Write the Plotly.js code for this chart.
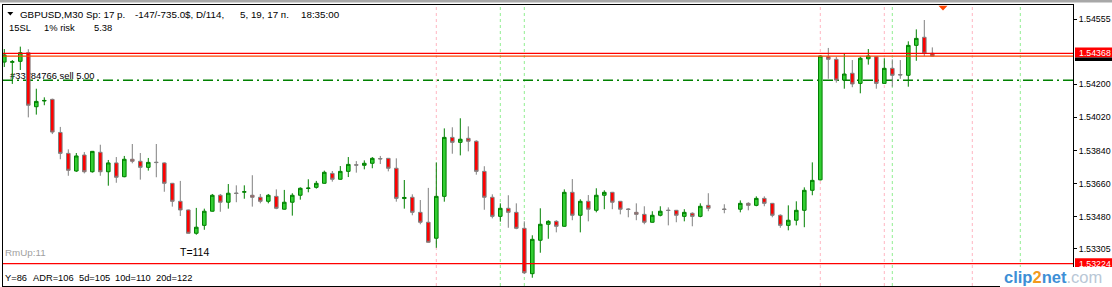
<!DOCTYPE html>
<html>
<head>
<meta charset="utf-8">
<script src="https://cdn.plot.ly/plotly-3.0.1.min.js"></script>
<style>html,body{margin:0;padding:0;background:#fff;}#chart{width:1112px;height:287px;}</style>
</head>
<body>
<div id="chart"></div>
<script>
// ---- data: GBPUSD M30 bars ----
const openP = [1.54321,1.54320,1.54325,1.54372,1.54078,1.54109,1.54118,1.53938,1.53824,1.53728,
1.53815,1.53724,1.53830,1.53724,1.53772,1.53697,1.53792,1.53781,1.53748,1.53776,
1.53772,1.53661,1.53563,1.53516,1.53389,1.53432,1.53509,1.53596,1.53558,1.53608,
1.53613,1.53596,1.53585,1.53563,1.53590,1.53520,1.53558,1.53596,1.53633,1.53639,
1.53661,1.53715,1.53683,1.53726,1.53762,1.53759,1.53770,1.53796,1.53797,1.53743,
1.53578,1.53585,1.53503,1.53449,1.53362,1.53590,1.53911,1.53884,1.53906,1.53890,
1.53726,1.53585,1.53481,1.53525,1.53503,1.53416,1.53169,1.53351,1.53438,1.53454,
1.53427,1.53612,1.53487,1.53563,1.53514,1.53596,1.53612,1.53563,1.53521,1.53503,
1.53492,1.53449,1.53487,1.53515,1.53514,1.53481,1.53498,1.53481,1.53541,null,
1.53521,null,1.53520,1.53552,1.53541,1.53579,1.53552,1.53487,1.53432,1.53460,
1.53514,1.53623,1.53680,1.54350,1.54336,1.54223,1.54260,1.54205,1.54339,1.54350,
1.54205,1.54287,1.54253,1.54249,1.54412,1.54456,1.54369];
const highP = [1.54392,1.54332,1.54405,1.54391,1.54176,1.54129,1.54122,1.53968,1.53846,1.53826,
1.53831,1.53837,1.53871,1.53788,1.53804,1.53810,1.53875,1.53826,1.53799,1.53875,
1.53775,1.53663,1.53674,1.53518,1.53527,1.53523,1.53603,1.53603,1.53657,1.53650,
1.53650,1.53705,1.53603,1.53603,1.53628,1.53625,1.53607,1.53639,1.53683,1.53674,
1.53730,1.53728,1.53755,1.53804,1.53782,1.53786,1.53804,1.53810,1.53799,1.53797,
1.53679,1.53601,1.53570,1.53636,1.53775,1.53960,1.53966,1.54015,1.53971,1.53895,
1.53754,1.53601,1.53552,1.53596,1.53552,1.53454,1.53378,1.53525,1.53460,1.53460,
1.53628,1.53684,1.53574,1.53597,1.53634,1.53623,1.53614,1.53565,1.53525,1.53552,
1.53536,1.53509,1.53536,1.53530,1.53516,1.53520,1.53503,1.53552,1.53607,null,
1.53547,null,1.53568,1.53558,1.53590,1.53590,1.53554,1.53492,1.53541,1.53563,
1.53639,1.53775,1.54357,1.54398,1.54350,1.54365,1.54332,1.54350,1.54392,1.54354,
1.54342,1.54336,1.54332,1.54434,1.54499,1.54550,1.54401];
const lowP = [1.54294,1.54202,1.54278,1.54020,1.54035,1.54086,1.53929,1.53792,1.53702,1.53723,
1.53715,1.53719,1.53702,1.53648,1.53664,1.53694,1.53770,1.53681,1.53730,1.53694,
1.53615,1.53534,1.53483,1.53388,1.53381,1.53408,1.53507,1.53506,1.53523,1.53558,
1.53577,1.53534,1.53552,1.53552,1.53520,1.53518,1.53485,1.53572,1.53612,1.53632,
1.53659,1.53670,1.53681,1.53695,1.53719,1.53737,1.53743,1.53766,1.53726,1.53561,
1.53523,1.53487,1.53438,1.53338,1.53310,1.53561,1.53822,1.53813,1.53835,1.53708,
1.53517,1.53470,1.53452,1.53419,1.53411,1.53167,1.53147,1.53283,1.53359,1.53394,
1.53425,1.53460,1.53394,1.53454,1.53503,1.53520,1.53520,1.53492,1.53476,1.53460,
1.53438,1.53447,1.53481,1.53432,1.53449,1.53454,1.53427,1.53476,1.53509,null,
1.53498,null,1.53503,1.53514,1.53536,1.53536,1.53476,1.53419,1.53405,1.53432,
1.53422,1.53596,1.53677,1.54230,1.54209,1.54176,1.54184,1.54151,1.54307,1.54176,
1.54204,1.54187,1.54230,1.54187,1.54328,1.54354,1.54353];
const closeP = [1.54360,1.54323,1.54372,1.54086,1.54107,1.54112,1.53940,1.53824,1.53732,1.53810,
1.53724,1.53835,1.53724,1.53772,1.53694,1.53792,1.53781,1.53748,1.53775,1.53774,
1.53661,1.53563,1.53516,1.53389,1.53422,1.53509,1.53596,1.53558,1.53607,1.53606,
1.53615,1.53585,1.53563,1.53596,1.53525,1.53558,1.53596,1.53634,1.53635,1.53661,
1.53721,1.53683,1.53726,1.53764,1.53760,1.53770,1.53797,1.53794,1.53743,1.53579,
1.53584,1.53503,1.53449,1.53340,1.53590,1.53911,1.53884,1.53901,1.53890,1.53726,
1.53585,1.53481,1.53525,1.53503,1.53416,1.53174,1.53356,1.53438,1.53454,1.53427,
1.53612,1.53487,1.53563,1.53520,1.53596,1.53612,1.53558,1.53520,1.53519,1.53492,
1.53449,1.53487,1.53509,1.53513,1.53487,1.53503,1.53481,1.53536,1.53525,null,
1.53519,null,1.53552,1.53541,1.53579,1.53552,1.53487,1.53432,1.53460,1.53514,
1.53623,1.53677,1.54354,1.54336,1.54223,1.54256,1.54202,1.54342,1.54354,1.54205,
1.54287,1.54249,1.54251,1.54412,1.54450,1.54369,1.54354];

// horizontal levels
const bidPrice = 1.54368;
const levelOrange = 1.54353;
const orderPrice = 1.54222;
const lowLevel = 1.53224;
const orderLabel = "#33784766 sell 5.00";

// vertical separators (bar numbers)
const pinkBars = [54, 102, 110, 121];
const greenBars = [62, 65, 111, 127];

// price axis ticks
const tickVals = [1.54555, 1.54200, 1.54020, 1.53840, 1.53660, 1.53480, 1.53305];
const tickText = ["1.54555", "1.54200", "1.54020", "1.53840", "1.53660", "1.53480", "1.53305"];

// texts
const headerParts = [["GBPUSD,M30", 19.3], ["Sp: 17 p.", 84.7], ["-147/-735.0$, D/114,", 134], ["5, 19, 17 п.", 239.3], ["18:35:00", 300]];
const line2Parts = [["15SL", 8], ["1% risk", 43.3], ["5.38", 92.7]];
const footerParts = [["Y=86", 4.3], ["ADR=106", 32], ["5d=105", 78.3], ["10d=110", 114.3], ["20d=122", 155]];

// ---- layout helpers (pixel -> paper) ----
const PL = 3, PR = 1073, PT = 5, PB = 286;
const px = x => (x - PL) / (PR - PL);
const py = y => (PB - y) / (PB - PT);
const FONT = "Liberation Sans, Arial, sans-serif";

const bars = openP.map((_, i) => i);

const trace = {
  type: 'candlestick',
  x: bars, open: openP, high: highP, low: lowP, close: closeP,
  increasing: {line: {color: '#008000', width: 1}, fillcolor: '#32CD32'},
  decreasing: {line: {color: '#808080', width: 1}, fillcolor: '#FF0000'},
  whiskerwidth: 0,
  hoverinfo: 'skip',
  showlegend: false
};

const shapes = [];
// top gray strip
shapes.push({type: 'rect', xref: 'paper', yref: 'paper', x0: px(0), x1: px(1112), y0: py(0), y1: py(2.4), fillcolor: '#a8a8a8', line: {width: 0}, layer: 'above'});
// vertical dashed separators
pinkBars.forEach(b => shapes.push({type: 'line', xref: 'x', yref: 'paper', x0: b, x1: b, y0: 0, y1: 1, line: {color: '#FFB6C1', width: 1, dash: '3px,3px'}, layer: 'below'}));
greenBars.forEach(b => shapes.push({type: 'line', xref: 'x', yref: 'paper', x0: b, x1: b, y0: 0, y1: 1, line: {color: '#90EE90', width: 1, dash: '3px,3px'}, layer: 'below'}));
// horizontal levels
shapes.push({type: 'line', xref: 'paper', yref: 'y', x0: 0, x1: 1, y0: orderPrice, y1: orderPrice, line: {color: '#008000', width: 1.3, dash: '10px,4px,2px,4px'}, layer: 'below'});
shapes.push({type: 'line', xref: 'paper', yref: 'y', x0: 0, x1: 1, y0: levelOrange, y1: levelOrange, line: {color: '#FF4500', width: 1.2}, layer: 'above'});
shapes.push({type: 'line', xref: 'paper', yref: 'y', x0: 0, x1: 1, y0: bidPrice, y1: bidPrice, line: {color: '#FF0000', width: 1.3}, layer: 'above'});
shapes.push({type: 'line', xref: 'paper', yref: 'y', x0: 0, x1: 1, y0: lowLevel, y1: lowLevel, line: {color: '#FF0000', width: 1.3}, layer: 'above'});
// order label drawn beneath the candles
shapes.push({type: 'line', xref: 'paper', yref: 'y', x0: px(10), x1: px(200), y0: orderPrice, y1: orderPrice,
  line: {color: 'rgba(0,0,0,0)', width: 1}, layer: 'below',
  label: {text: orderLabel, textposition: 'start', yanchor: 'bottom', padding: 0, font: {family: FONT, size: 9.4, color: '#000'}}});
// price tags on the axis
shapes.push({type: 'rect', xref: 'paper', yref: 'paper', x0: px(1075), x1: px(1112), y0: py(57.6), y1: py(47.6), fillcolor: '#FF0000', line: {width: 0}});
shapes.push({type: 'rect', xref: 'paper', yref: 'paper', x0: px(1075), x1: px(1112), y0: py(61), y1: py(57.6), fillcolor: '#000000', line: {width: 0}});
shapes.push({type: 'rect', xref: 'paper', yref: 'paper', x0: px(1075), x1: px(1112), y0: py(270), y1: py(258.3), fillcolor: '#FF0000', line: {width: 0}});
// watermark background
shapes.push({type: 'rect', xref: 'paper', yref: 'paper', x0: px(1000), x1: px(1112), y0: py(287), y1: py(267), fillcolor: '#FFFFFF', line: {width: 0}, layer: 'above'});
// header triangle and top marker
shapes.push({type: 'path', xref: 'paper', yref: 'paper', path: `M ${px(7.3)} ${py(12)} L ${px(13.3)} ${py(12)} L ${px(10.3)} ${py(15.5)} Z`, fillcolor: '#000', line: {width: 0}});
shapes.push({type: 'path', xref: 'paper', yref: 'paper', path: `M ${px(938.5)} ${py(5.7)} L ${px(947.5)} ${py(5.7)} L ${px(943)} ${py(10.5)} Z`, fillcolor: '#FF4500', line: {width: 0}, layer: 'above'});

const annotations = [];
function ann(text, x, y, size, color, extra) {
  annotations.push(Object.assign({text: text, xref: 'paper', yref: 'paper', x: px(x - 1), y: py(y), xanchor: 'left', yanchor: 'middle', showarrow: false,
    font: {family: FONT, size: size, color: color}}, extra || {}));
}
headerParts.forEach(p => ann(p[0], p[1], 14.3, 9.8, '#000'));
line2Parts.forEach(p => ann(p[0], p[1], 27.3, 9.4, '#000'));
footerParts.forEach(p => ann(p[0], p[1], 277.7, 9.3, '#000'));
ann('RmUp:11', 4.3, 252.3, 9.8, '#a0a0a0');
ann('T=114', 179, 252.3, 10.5, '#000');
ann('1.54368', 1078, 52.6, 8.8, '#fff');
ann('1.53224', 1078, 264.2, 8.8, '#fff');
ann('<b><span style="color:#3d8fd6">clip</span><span style="color:#f29a1d">2</span><span style="color:#3d8fd6">net</span></b><span style="color:#b9c7d6">.com</span>', 1003, 276.5, 16.5, '#3d8fd6');

const layout = {
  width: 1112, height: 287,
  margin: {l: 3, r: 39, t: 5, b: 1, pad: 0},
  paper_bgcolor: '#fff', plot_bgcolor: '#fff',
  showlegend: false,
  boxgap: 0.36,
  xaxis: {range: [-0.1625, 133.5875], rangeslider: {visible: false}, showgrid: false, zeroline: false,
    showticklabels: false, ticks: '', showline: true, mirror: true, linecolor: '#000', linewidth: 1, fixedrange: true},
  yaxis: {range: [1.5310195, 1.5463171], side: 'right', showgrid: false, zeroline: false,
    tickmode: 'array', tickvals: tickVals, ticktext: tickText, ticks: 'outside', ticklen: 3, tickwidth: 1, tickcolor: '#000',
    tickfont: {family: FONT, size: 8.8, color: '#000'}, showline: true, mirror: true, linecolor: '#000', linewidth: 1, fixedrange: true},
  shapes: shapes,
  annotations: annotations,
  font: {family: FONT}
};

Plotly.newPlot('chart', [trace], layout, {staticPlot: true, displayModeBar: false});
</script>
</body>
</html>
